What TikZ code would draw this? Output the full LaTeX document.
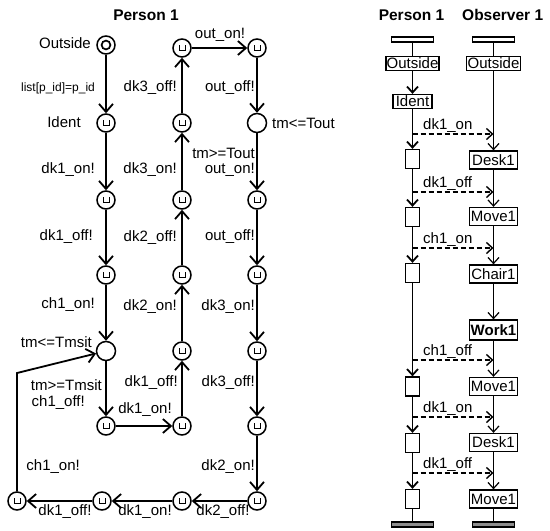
\documentclass[tikz,border=0pt]{standalone}
\usepackage{fontspec}
\setmainfont{Liberation Sans}
\usetikzlibrary{arrows.meta}
\begin{document}
\begin{tikzpicture}[x=1pt,y=-1pt,
  every node/.style={inner sep=0pt},
  txt/.style={font=\fontsize{15}{17}\selectfont},
  small/.style={font=\fontsize{12}{14}\selectfont},
  ttl/.style={font=\fontsize{15.5}{17}\selectfont\bfseries},
  loc/.style={circle, draw, line width=1.5pt, minimum size=18pt, fill=white},
  urg/.style={loc, path picture={\draw[line width=1pt]
      ([xshift=-3pt,yshift=2.6pt]path picture bounding box.center)
      -- ++(0,-5.2pt) -- ++(6pt,0) -- ++(0,5.2pt);}},
  initloc/.style={loc, path picture={\draw[line width=1.7pt]
      (path picture bounding box.center) circle[radius=4.4pt];}},
  trans/.style={line width=1.8pt, -{Straight Barb[length=8pt,width=14pt]}},
  bar/.style={draw, line width=1.3pt, minimum width=42pt, minimum height=5pt, fill=white},
  endbar/.style={bar, fill=black!45},
  box/.style={draw, line width=1.3pt, fill=white, txt, minimum width=48pt, minimum height=18pt},
  act/.style={draw, line width=1.3pt, fill=white, minimum width=14pt, minimum height=19pt},
  lifeL/.style={line width=1.8pt},
  lifeR/.style={line width=1.2pt},
  stepL/.style={lifeL, -{Straight Barb[length=6pt,width=11pt]}},
  stepR/.style={lifeR, -{Straight Barb[length=6pt,width=11pt]}},
  msg/.style={line width=1.4pt, dash pattern=on 5pt off 3pt, -{Straight Barb[length=6pt,width=11pt]}}
]
\useasboundingbox (0,0) rectangle (550,531);

% ---------------- timed automaton of Person 1 ----------------
\node[ttl] (title1) at (146,15) {Person 1};

% column 1
\node[initloc] (out) at (106,45) {};
\node[urg] (idt) at (106,123) {};
\node[urg] (a3) at (106,200) {};
\node[urg] (a4) at (106,275) {};
\node[loc, minimum size=19pt] (sit) at (106,351) {};
\node[urg] (a6) at (106,426) {};
% column 2
\node[urg] (b1) at (182,48) {};
\node[urg] (b2) at (182,123) {};
\node[urg] (b3) at (182,200) {};
\node[urg] (b4) at (182,275) {};
\node[urg] (b5) at (182,351) {};
\node[urg] (b6) at (182,426) {};
% column 3
\node[urg] (c1) at (257,48) {};
\node[loc, minimum size=19pt] (c2) at (257,123) {};
\node[urg] (c3) at (257,200) {};
\node[urg] (c4) at (257,275) {};
\node[urg] (c5) at (257,351) {};
\node[urg] (c6) at (257,426) {};
\node[urg] (c7) at (257,501) {};
% bottom row
\node[urg] (d3) at (182,501) {};
\node[urg] (d2) at (102,501) {};
\node[urg] (d1) at (17,501) {};
\coordinate (bend) at (17,373);

\draw[trans] (out) -- (idt);
\draw[trans] (idt) -- (a3);
\draw[trans] (a3) -- (a4);
\draw[trans] (a4) -- (sit);
\draw[trans] (sit) -- (a6);
\draw[trans] (a6) -- (b6);
\draw[trans] (b6) -- (b5);
\draw[trans] (b5) -- (b4);
\draw[trans] (b4) -- (b3);
\draw[trans] (b3) -- (b2);
\draw[trans] (b2) -- (b1);
\draw[trans] (b1) -- (c1);
\draw[trans] (c1) -- (c2);
\draw[trans] (c2) -- (c3);
\draw[trans] (c3) -- (c4);
\draw[trans] (c4) -- (c5);
\draw[trans] (c5) -- (c6);
\draw[trans] (c6) -- (c7);
\draw[trans] (c7) -- (d3);
\draw[trans] (d3) -- (d2);
\draw[trans] (d2) -- (d1);
\draw[trans] (d1) -- (bend) -- (sit);

% location names and invariants
\node[txt, anchor=east] (nOut) at (91,43) {Outside};
\node[txt] (nIdent) at (64,122) {Ident};
\node[txt, anchor=east] (nTmsit) at (92,342) {tm<=Tmsit};
\node[txt, anchor=west] (nTout) at (272,123) {tm<=Tout};

% transition labels, column 1
\node[small] (e1) at (58,88) {list[p\_id]=p\_id};
\node[txt, anchor=east] (e2) at (95,170) {dk1\_on!};
\node[txt, anchor=east] (e3) at (93,237) {dk1\_off!};
\node[txt, anchor=east] (e4) at (95,305) {ch1\_on!};
\node[txt, anchor=east] (e5) at (102,385) {tm>=Tmsit};
\node[txt, anchor=east] (e6) at (85,403) {ch1\_off!};
\node[txt] (e7) at (145,410) {dk1\_on!};
\node[txt, anchor=east] (e8) at (80,467) {ch1\_on!};
% column 2
\node[txt, anchor=east] (f1) at (177,88) {dk3\_off!};
\node[txt, anchor=east] (f2) at (177,170) {dk3\_on!};
\node[txt, anchor=east] (f3) at (177,238) {dk2\_off!};
\node[txt, anchor=east] (f4) at (177,307) {dk2\_on!};
\node[txt, anchor=east] (f5) at (178,383) {dk1\_off!};
% column 3
\node[txt] (g0) at (220,35) {out\_on!};
\node[txt, anchor=east] (g1) at (255,88) {out\_off!};
\node[txt, anchor=east] (g2) at (255,153) {tm>=Tout};
\node[txt, anchor=east] (g3) at (255,170) {out\_on!};
\node[txt, anchor=east] (g4) at (255,237) {out\_off!};
\node[txt, anchor=east] (g5) at (255,307) {dk3\_on!};
\node[txt, anchor=east] (g6) at (255,383) {dk3\_off!};
\node[txt, anchor=east] (g7) at (255,467) {dk2\_on!};
% bottom row
\node[txt] (h1) at (65,512) {dk1\_off!};
\node[txt] (h2) at (145,512) {dk1\_on!};
\node[txt] (h3) at (223,512) {dk2\_off!};

% ---------------- message sequence chart ----------------
\node[ttl] (title2) at (411.5,15) {Person 1};
\node[ttl, anchor=west] (title3) at (462,15) {Observer 1};

% Person 1 lifeline
\node[bar] (lt) at (412.5,39.5) {};
\node[box, minimum width=53pt, minimum height=14pt] (lo) at (412.5,63.5) {Outside};
\node[box, minimum width=39pt, minimum height=14pt] (li) at (412.5,101.5) {Ident};
\node[act] (l1) at (412.5,159) {};
\node[act] (l2) at (412.5,217) {};
\node[act] (l3) at (412.5,273) {};
\node[act] (l4) at (412.5,386.5) {};
\node[act] (l5) at (412.5,443) {};
\node[act] (l6) at (412.5,499) {};
\node[endbar] (lb) at (412.5,524.5) {};

% Observer 1 lifeline
\node[bar] (rt) at (493.5,39.5) {};
\node[box, minimum width=54pt, minimum height=14pt] (ro) at (493.5,63.5) {Outside};
\node[box] (r1) at (493.5,160) {Desk1};
\node[box] (r2) at (493.5,216.5) {Move1};
\node[box] (r3) at (493.5,274) {Chair1};
\node[box, font=\fontsize{15}{17}\selectfont\bfseries, minimum height=20pt] (r4) at (493.5,330) {Work1};
\node[box] (r5) at (493.5,386.5) {Move1};
\node[box] (r6) at (493.5,442.5) {Desk1};
\node[box] (r7) at (493.5,499) {Move1};
\node[endbar] (rb) at (493.5,524.5) {};

\draw[lifeL] (lt) -- (lo);
\draw[stepL] (lo) -- (li);
\draw[stepL] (li) -- (l1);
\draw[stepL] (l1) -- (l2);
\draw[stepL] (l2) -- (l3);
\draw[stepL] (l3) -- (l4);
\draw[stepL] (l4) -- (l5);
\draw[stepL] (l5) -- (l6);
\draw[lifeL] (l6) -- (lb);

\draw[lifeR] (rt) -- (ro);
\draw[stepR] (ro) -- (r1);
\draw[stepR] (r1) -- (r2);
\draw[stepR] (r2) -- (r3);
\draw[stepR] (r3) -- (r4);
\draw[stepR] (r4) -- (r5);
\draw[stepR] (r5) -- (r6);
\draw[stepR] (r6) -- (r7);
\draw[lifeR] (r7) -- (rb);

% synchronisation messages
\foreach \y/\lbl [count=\i] in {134/dk1\_on, 192/dk1\_off, 248/ch1\_on,
                                 360/ch1\_off, 417/dk1\_on, 473/dk1\_off}{
  \coordinate (ms\i) at (412.5,\y);
  \coordinate (mt\i) at (493.5,\y);
  \draw[msg] (ms\i) -- (mt\i);
  \node[txt, anchor=west] (ml\i) at (423,\y-8) {\lbl};
}
\end{tikzpicture}
\end{document}
